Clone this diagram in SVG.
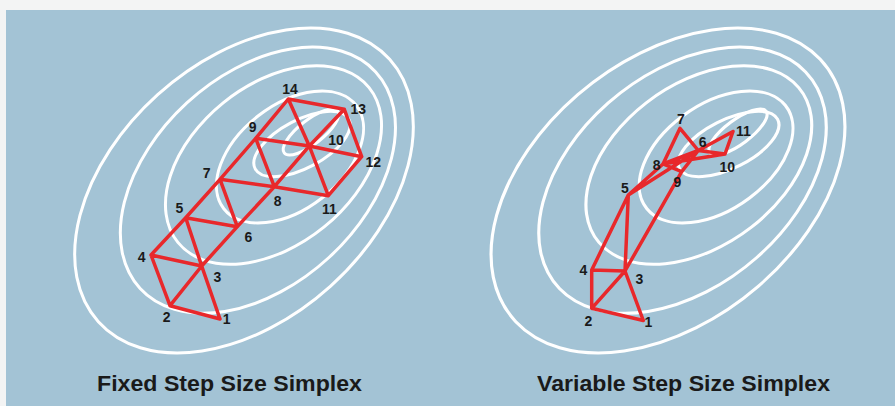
<svg xmlns="http://www.w3.org/2000/svg" width="895" height="406" viewBox="0 0 895 406">
<style>
.ring{fill:none;stroke:#ffffff;stroke-width:3}
.edge{fill:none;stroke:#e8282b;stroke-width:3.5;stroke-linejoin:round;stroke-linecap:round}
.lbl{font-family:"Liberation Sans",Arial,sans-serif;font-weight:bold;font-size:14px;fill:#1a1a1a;text-anchor:middle;dominant-baseline:central}
.title{font-family:"Liberation Sans",Arial,sans-serif;font-weight:bold;font-size:22px;fill:#1a1a1a;text-anchor:middle}
</style>
<defs>
<g id="rings">
<ellipse class="ring" cx="244" cy="190.5" rx="196" ry="129" transform="rotate(-42 244 190.5)"/>
<ellipse class="ring" cx="257.9" cy="180.2" rx="160" ry="105" transform="rotate(-42.6 257.9 180.2)"/>
<ellipse class="ring" cx="273.5" cy="165" rx="123" ry="80" transform="rotate(-39 273.5 165)"/>
<ellipse class="ring" cx="290" cy="157" rx="84" ry="52" transform="rotate(-38 290 157)"/>
<ellipse class="ring" cx="302" cy="144" rx="53" ry="24" transform="rotate(-28 302 144)"/>
<ellipse class="ring" cx="311" cy="132" rx="34" ry="12" transform="rotate(-38 311 132)"/>
</g>
</defs>
<rect x="0" y="0" width="895" height="406" fill="#f3f4f4"/>
<rect x="6" y="10" width="889" height="396" fill="#a3c3d5"/>
<g id="contours-left"><use href="#rings"/></g>
<g id="contours-right"><use href="#rings" transform="translate(668 190) scale(1.045 1) translate(-244 -190)"/></g>
<g id="connectors">
<path class="edge" d="M220,319 L170,305.7 L151,255 L185.7,217.7 L220,179.3 L255.7,138.3 L288.3,99 L344.3,109.3 L361.7,156.7 L328.3,195.7 L274.3,186.7 L220,179.3 L237.3,226.7 L185.7,217.7 L201.7,266 L220,319 M151,255 L201.7,266 M170,305.7 L201.7,266 L237.3,226.7 L274.3,186.7 L309.3,146 L344.3,109.3 M255.7,138.3 L274.3,186.7 M255.7,138.3 L309.3,146 L361.7,156.7 M288.3,99 L309.3,146 L328.3,195.7"/>
<path class="edge" d="M643.3,320.5 L591.7,308.3 L591.7,270 L628.3,195 L625,271 L643.3,320.5 M591.7,308.3 L625,271 L591.7,270 M625,271 L681.7,171.7 L698.3,150.5 M628.3,195 L698.3,150.5 M628.3,195 L663,164 L680,128.3 L698.3,150.5 M663,164 L725,154 L733,131.5 L698.3,150.5 L725,154 M663,164 L698.3,150.5 M663,164 L681.7,171.7"/>
</g>
<g id="labels-left">
<text class="lbl" x="226.7" y="319.3">1</text>
<text class="lbl" x="166.7" y="316.7">2</text>
<text class="lbl" x="217.3" y="276.7">3</text>
<text class="lbl" x="141.7" y="256.7">4</text>
<text class="lbl" x="179.3" y="207.7">5</text>
<text class="lbl" x="248.3" y="236.7">6</text>
<text class="lbl" x="206.7" y="173.3">7</text>
<text class="lbl" x="277.7" y="201">8</text>
<text class="lbl" x="252.7" y="127.3">9</text>
<text class="lbl" x="336" y="140">10</text>
<text class="lbl" x="329.3" y="209.3">11</text>
<text class="lbl" x="373.3" y="161.7">12</text>
<text class="lbl" x="358.3" y="109.3">13</text>
<text class="lbl" x="290" y="89.3">14</text>
</g>
<g id="labels-right">
<text class="lbl" x="648.3" y="321.7">1</text>
<text class="lbl" x="588.3" y="321">2</text>
<text class="lbl" x="639.3" y="279.3">3</text>
<text class="lbl" x="583.3" y="270">4</text>
<text class="lbl" x="625" y="188.3">5</text>
<text class="lbl" x="702.7" y="141.7">6</text>
<text class="lbl" x="681" y="119.3">7</text>
<text class="lbl" x="656.7" y="165">8</text>
<text class="lbl" x="677.3" y="181.7">9</text>
<text class="lbl" x="727.3" y="166.7">10</text>
<text class="lbl" x="743.3" y="131">11</text>
</g>
<g id="titles">
<text class="title" x="229.5" y="391" textLength="265" lengthAdjust="spacingAndGlyphs">Fixed Step Size Simplex</text>
<text class="title" x="683.5" y="391" textLength="293" lengthAdjust="spacingAndGlyphs">Variable Step Size Simplex</text>
</g>
</svg>
